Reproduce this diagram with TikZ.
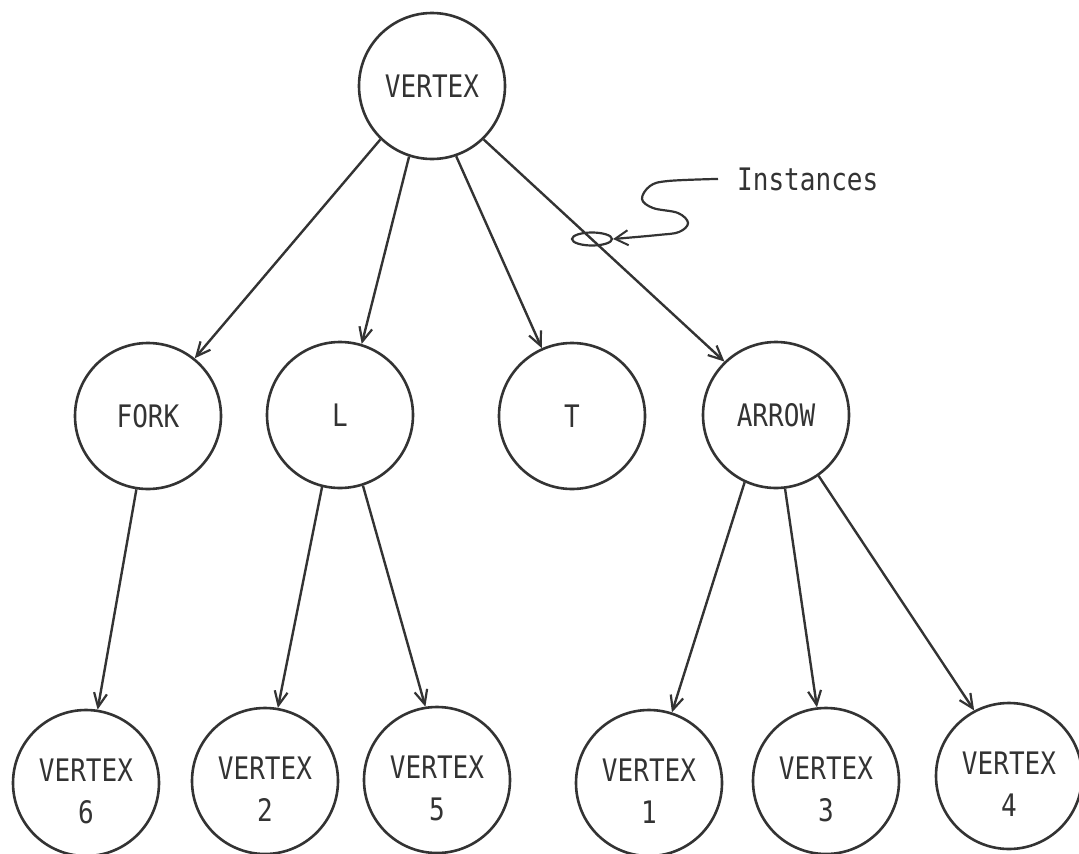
\documentclass[tikz,border=0pt]{standalone}
\usepackage{fontspec}
\newfontfamily\typefont[FakeStretch=0.84]{DejaVu Sans Mono}
\usetikzlibrary{arrows.meta,shapes.geometric}
\definecolor{ink}{HTML}{333333}
\newcommand{\lowerstrut}{\rule{0pt}{39pt}}
\begin{document}
\begin{tikzpicture}[x=1pt,y=-1pt,
  vnode/.style={circle,draw=ink,line width=2.6pt,minimum size=146pt,inner sep=0pt,
    font=\typefont\fontsize{31}{42}\selectfont,text=ink,align=center},
  link/.style={draw=ink,line width=2.4pt,
    -{Straight Barb[length=14pt,width=13pt,line width=2.2pt]}},
  lead/.style={draw=ink,line width=2.2pt,
    -{Straight Barb[length=13pt,width=15pt,line width=2pt]}}]
\useasboundingbox (0,0) rectangle (1079,854);

% tree nodes
\node[vnode] (top)   at (432,86)  {VERTEX};
\node[vnode] (fork)  at (148,416) {FORK};
\node[vnode] (l)     at (340,415) {L};
\node[vnode] (t)     at (572,416) {T};
\node[vnode] (arrow) at (776,415) {ARROW};
\node[vnode] (v6) at (86,783)   {\lowerstrut VERTEX\\6};
\node[vnode] (v2) at (265,781)  {\lowerstrut VERTEX\\2};
\node[vnode] (v5) at (437,780)  {\lowerstrut VERTEX\\5};
\node[vnode] (v1) at (649,783)  {\lowerstrut VERTEX\\1};
\node[vnode] (v3) at (826,781)  {\lowerstrut VERTEX\\3};
\node[vnode] (v4) at (1009,776) {\lowerstrut VERTEX\\4};

% instance links
\draw[link] (top.226) -- (fork.51);
\draw[link] (top.252) -- (l.73);
\draw[link] (top.289) -- (t.114);
\draw[link] (top.314) -- (arrow.134);
\draw[link] (fork.261) -- (v6.81);
\draw[link] (l.256) -- (v2.80);
\draw[link] (l.288) -- (v5.99);
\draw[link] (arrow.245) -- (v1.72);
\draw[link] (arrow.277) -- (v3.97);
\draw[link] (arrow.305) -- (v4.118);

% annotation
\node[ellipse,draw=ink,line width=2.2pt,minimum width=40pt,minimum height=13pt,inner sep=0pt] (loop) at (592,239) {};
\node[font=\typefont\fontsize{31}{42}\selectfont,text=ink,anchor=base west,inner sep=0pt] (inst) at (737,190) {Instances};
\coordinate (leadstart) at ([xshift=-19pt]inst.west);
\draw[lead] plot[smooth,tension=0.6] coordinates {(leadstart) (668,181) (650,186) (642,199) (653,208) (678,213) (688,223) (679,232) (658,235) (loop.east)};
\end{tikzpicture}
\end{document}
